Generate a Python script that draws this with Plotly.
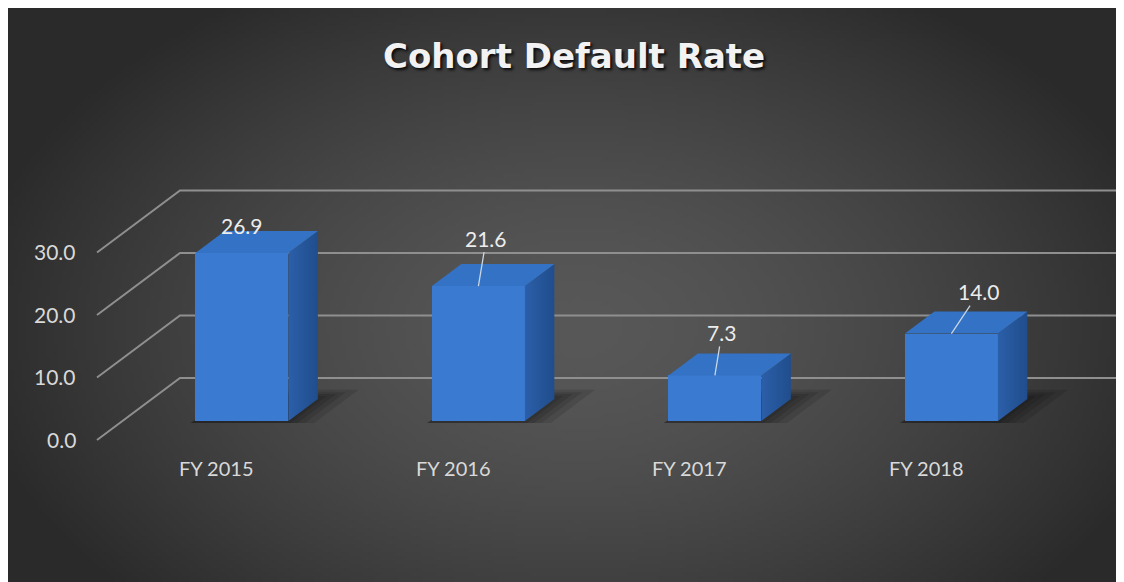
import base64
import struct
import zlib

import numpy as np
import plotly.graph_objects as go

# ---------------- data ----------------
categories = ["FY 2015", "FY 2016", "FY 2017", "FY 2018"]
rates = [26.9, 21.6, 7.3, 14.0]
tick_values = [0, 10, 20, 30]
tick_labels = ["0.0", "10.0", "20.0", "30.0"]
title_text = "Cohort Default Rate"

# ---------------- layout / projection constants ----------------
W, H = 1116, 574      # page body margin (8px) supplies the thin white border
PX_X = 236.5          # px per category step
PX_Y = 6.25           # px per value unit
X0_PX = 208.5         # fig x of first category on the front floor edge
Y0_PX = 432.0         # fig y of value 0 on the front plane
DX = 83 / PX_X        # depth vector (whole wall depth) in axis units
DY = 62 / PX_Y
D_FRONT, D_BACK = 0.306, 0.661   # bar depth span
HALF_W = 46.5 / PX_X             # half bar width
WALL_X = (89 - X0_PX) / PX_X     # left wall front edge
X_MIN, X_MAX = (0 - X0_PX) / PX_X, (W - X0_PX) / PX_X
Y_MIN, Y_MAX = (Y0_PX - H) / PX_Y, Y0_PX / PX_Y


def P(x, v, d):
    return x + d * DX, v + d * DY


# label offsets (pixels) for the value labels
label_dx = [0, 8, 7, 28]
label_dy = [-27, -48, -43, -42]
label_leader = [False, True, True, True]


# ---------------- background gradient image ----------------
def png_uri(arr):
    h, w, _ = arr.shape
    raw = b"".join(b"\x00" + arr[r].tobytes() for r in range(h))

    def chunk(t, d):
        c = struct.pack(">I", len(d)) + t + d
        return c + struct.pack(">I", zlib.crc32(t + d) & 0xFFFFFFFF)

    png = (b"\x89PNG\r\n\x1a\n"
           + chunk(b"IHDR", struct.pack(">IIBBBBB", w, h, 8, 2, 0, 0, 0))
           + chunk(b"IDAT", zlib.compress(raw, 9))
           + chunk(b"IEND", b""))
    return "data:image/png;base64," + base64.b64encode(png).decode()


gw, gh = 279, 144
xs = np.linspace(0, W, gw)
ys = np.linspace(0, H, gh)
gx, gy = np.meshgrid(xs, ys)
t = np.sqrt(((gx - 570) / 620) ** 2 + ((gy - 320) / 400) ** 2)
t = np.clip(t, 0, 1) ** 1.5
c = (88 - 46 * t).astype(np.uint8)
bg = np.stack([c, c, c], axis=-1)

fig = go.Figure()

shapes = []
# wall grid lines (side wall diagonal + back wall horizontal)
for v in tick_values:
    a = P(WALL_X, v, 0)
    b = P(WALL_X, v, 1)
    e = (X_MAX + 1, b[1])
    shapes.append(dict(type="path", xref="x", yref="y", layer="below",
                       path=f"M {a[0]},{a[1]} L {b[0]},{b[1]} L {e[0]},{e[1]}",
                       line=dict(color="#8f8f8f", width=2)))

# soft shadows on the floor
for i, v in enumerate(rates):
    for grow in (0.10, 0.06, 0.03, 0.0):
        pts = [P(i - HALF_W - 0.01, 0, D_FRONT - 0.03),
               P(i + HALF_W + 0.02 + grow, 0, D_FRONT - 0.03),
               P(i + HALF_W + 0.02 + grow, 0, D_BACK + 0.05 + grow),
               P(i - HALF_W + 0.02, 0, D_BACK + 0.05 + grow)]
        path = "M " + " L ".join(f"{p[0]},{p[1]}" for p in pts) + " Z"
        shapes.append(dict(type="path", xref="x", yref="y", layer="below",
                           path=path, fillcolor="rgba(0,0,0,0.11)",
                           line=dict(width=0)))

# bar front faces
fig.add_trace(go.Bar(
    x=[P(i, 0, D_FRONT)[0] for i in range(len(rates))],
    y=rates,
    base=[P(0, 0, D_FRONT)[1]] * len(rates),
    width=2 * HALF_W,
    marker=dict(color="#3a7ad0", line=dict(width=0)),
    hovertext=categories,
    showlegend=False,
))

# side and top faces
for i, v in enumerate(rates):
    side = [P(i + HALF_W, 0, D_FRONT), P(i + HALF_W, 0, D_BACK),
            P(i + HALF_W, v, D_BACK), P(i + HALF_W, v, D_FRONT),
            P(i + HALF_W, 0, D_FRONT)]
    fig.add_trace(go.Scatter(
        x=[p[0] for p in side], y=[p[1] for p in side],
        mode="lines", fill="toself", line=dict(width=0),
        fillgradient=dict(type="horizontal",
                          colorscale=[[0, "#2b5fa9"], [1, "#204d8c"]]),
        hoverinfo="skip", showlegend=False))
    top = [P(i - HALF_W, v, D_FRONT), P(i + HALF_W, v, D_FRONT),
           P(i + HALF_W, v, D_BACK), P(i - HALF_W, v, D_BACK),
           P(i - HALF_W, v, D_FRONT)]
    fig.add_trace(go.Scatter(
        x=[p[0] for p in top], y=[p[1] for p in top],
        mode="lines", fill="toself", line=dict(width=0),
        fillcolor="#3372c4",
        hoverinfo="skip", showlegend=False))

annotations = []
FONT = "Lato, 'Open Sans', sans-serif"
# y tick labels on the side wall
for v, lab in zip(tick_values, tick_labels):
    a = P(WALL_X, v, 0)
    annotations.append(dict(x=a[0], y=a[1], xref="x", yref="y", text=lab,
                            showarrow=False, xanchor="right", yanchor="middle",
                            xshift=-19, yshift=1,
                            font=dict(family=FONT, size=21, color="#d9d9d9")))
# category labels
for i, lab in enumerate(categories):
    annotations.append(dict(x=i, y=0, xref="x", yref="y", text=lab,
                            showarrow=False, xanchor="center", yanchor="middle",
                            yshift=-28,
                            font=dict(family=FONT, size=20, color="#d9d9d9")))
# value labels
for i, v in enumerate(rates):
    px, py = P(i, v, D_FRONT)
    if label_leader[i]:
        annotations.append(dict(x=px, y=py, xref="x", yref="y",
                                text=f"{v:.1f}", showarrow=True, arrowhead=0,
                                arrowwidth=1.3, arrowcolor="#c9d6e3",
                                ax=label_dx[i], ay=label_dy[i],
                                axref="pixel", ayref="pixel", standoff=0,
                                font=dict(family=FONT, size=21, color="#ececec")))
    else:
        annotations.append(dict(x=px, y=py, xref="x", yref="y",
                                text=f"{v:.1f}", showarrow=False,
                                xshift=label_dx[i], yshift=-label_dy[i],
                                xanchor="center", yanchor="middle",
                                font=dict(family=FONT, size=21, color="#ececec")))
# title with shadow
annotations.append(dict(x=565.5 / W, y=1 - 48 / H, xref="paper", yref="paper",
                        text=f"<b>{title_text}</b>", showarrow=False,
                        xanchor="center", yanchor="middle",
                        font=dict(family="'DejaVu Sans', sans-serif", size=34,
                                  color="#f2f2f2",
                                  shadow="2px 2px 3px rgba(0,0,0,0.85)")))

fig.update_layout(
    width=W, height=H,
    margin=dict(l=0, r=0, t=0, b=0),
    paper_bgcolor="#2e2e2e",
    plot_bgcolor="rgba(0,0,0,0)",
    xaxis=dict(range=[X_MIN, X_MAX], visible=False, fixedrange=True),
    yaxis=dict(range=[Y_MIN, Y_MAX], visible=False, fixedrange=True),
    bargap=0,
    shapes=shapes,
    annotations=annotations,
    images=[dict(source=png_uri(bg), xref="paper", yref="paper",
                 x=0, y=1, sizex=1, sizey=1,
                 sizing="stretch", layer="below",
                 xanchor="left", yanchor="top")],
    showlegend=False,
)

fig.write_html("out.html")
